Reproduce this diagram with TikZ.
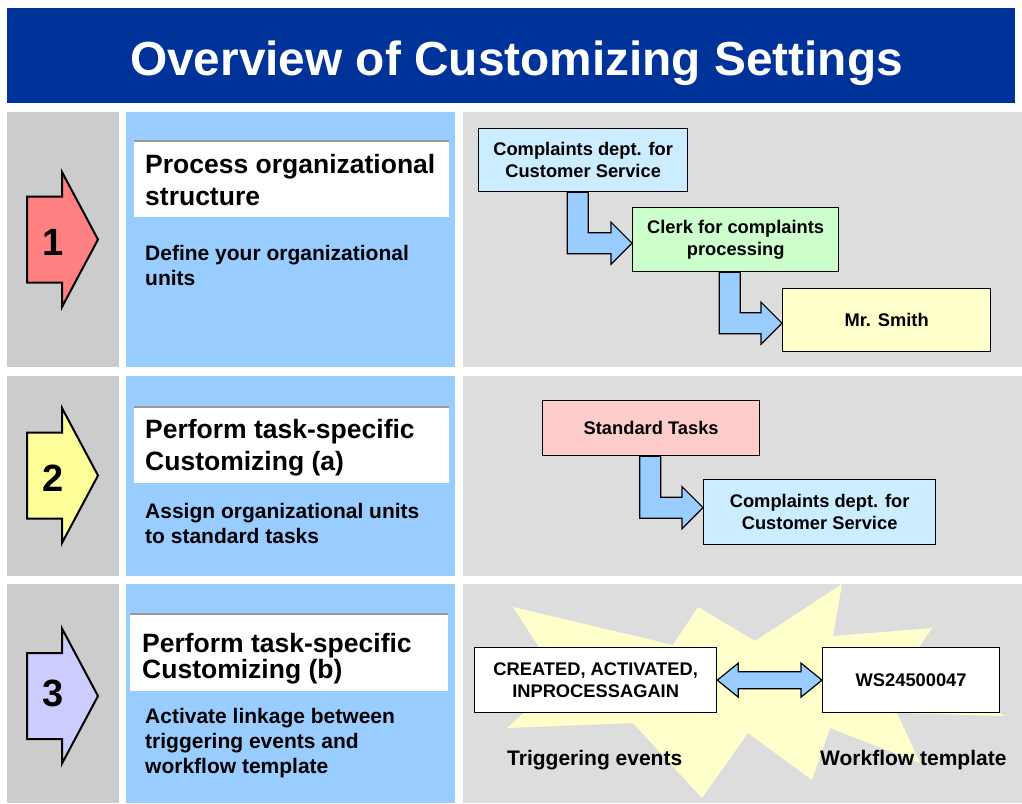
\documentclass[tikz,border=0pt]{standalone}
\usepackage{fontspec}
\setmainfont{Liberation Sans}
\usetikzlibrary{calc}

\definecolor{sapblue}{HTML}{003399}
\definecolor{colgray}{HTML}{CCCCCC}
\definecolor{colblue}{HTML}{99CCFF}
\definecolor{panelgray}{HTML}{DDDDDD}
\definecolor{numred}{HTML}{FF8080}
\definecolor{numyellow}{HTML}{FFFF99}
\definecolor{numlilac}{HTML}{CCCCFF}
\definecolor{deptcyan}{HTML}{CCECFF}
\definecolor{clerkgreen}{HTML}{CCFFCC}
\definecolor{smithyellow}{HTML}{FFFFCC}
\definecolor{taskpink}{HTML}{FFCCCC}
\definecolor{burstyellow}{HTML}{FFFFCC}

% bent block arrow from the bottom of #1 to the left side of #2 (#3, #4: shift of the shaft)
\newcommand\bentlink[4]{%
  \coordinate (lk-s) at ($(#1.south)+(#3,0)$);
  \coordinate (lk-t) at ($(#2.west)+(0,#4)$);
  \draw[linkarrow] ($(lk-s)+(-10.5,0)$) -- ($(lk-s |- lk-t)+(-10.5,10.5)$)
    -- ($(lk-t)+(-21,10.5)$) -- ($(lk-t)+(-21,21)$) -- (lk-t)
    -- ($(lk-t)+(-21,-21)$) -- ($(lk-t)+(-21,-10.5)$)
    -- ($(lk-s |- lk-t)+(10.5,-10.5)$) -- ($(lk-s)+(10.5,0)$) -- cycle;}

\begin{document}
\begin{tikzpicture}[
    x=1pt, y=-1pt,
    numarrow/.style={draw, line width=2pt, line join=miter},
    numtext/.style={anchor=base, font=\fontsize{38}{40}\selectfont\bfseries},
    titlebox/.style={fill=white, anchor=north west, inner sep=0pt, minimum width=315, minimum height=76},
    titleedge/.style={draw=black!40, line width=1.2pt},
    headtext/.style={anchor=base west, inner sep=0pt, align=left, font=\fontsize{26.5}{32}\selectfont\bfseries},
    subtext/.style={anchor=base west, inner sep=0pt, align=left, font=\fontsize{21}{25}\selectfont\bfseries},
    orgbox/.style={draw, line width=1.3pt, anchor=north west, inner sep=0pt, align=center, font=\fontsize{18.3}{22}\selectfont\bfseries},
    linkarrow/.style={draw, fill=colblue, line width=1.2pt, line join=miter},
    labeltext/.style={anchor=base west, inner sep=0pt, font=\fontsize{21}{25}\selectfont\bfseries},
  ]
  \fill[white] (0,0) rectangle (1022,803);
  \useasboundingbox (0,0) rectangle (1022,803);

  % title bar
  \node[fill=sapblue, anchor=north west, inner sep=0pt, minimum width=1008, minimum height=95] (bar) at (7,8) {};
  \node[anchor=base, text=white, font=\fontsize{47.8}{50}\selectfont\bfseries] (title) at (516.5,75) {Overview of Customizing Settings};

  % three rows of columns
  \foreach \top/\bot in {112/367, 376/576, 584/803} {
    \fill[colgray] (7,\top) rectangle (119,\bot);
    \fill[colblue] (126,\top) rectangle (455,\bot);
    \fill[panelgray] (463,\top) rectangle (1022,\bot);
  }

  % numbered arrows
  \foreach \n/\cy/\base/\col in {1/239.5/255/numred, 2/475.5/491/numyellow, 3/696/706/numlilac} {
    \draw[numarrow, fill=\col] (27,{\cy-43}) -- (62,{\cy-43}) -- (62,{\cy-67.5}) -- (98,\cy)
      -- (62,{\cy+67.5}) -- (62,{\cy+43}) -- (27,{\cy+43}) -- cycle;
    \node[numtext] (num\n) at (53,\base) {\n};
  }

  % step 1 (text nodes sit on the baseline of their last line)
  \node[titlebox] (tbox1) at (134,141) {};
  \draw[titleedge] (tbox1.north west) -- (tbox1.north east);
  \node[headtext] (head1) at (145,205) {Process organizational\\structure};
  \node[subtext] (sub1) at (145,285) {Define your organizational\\units};

  \node[orgbox, fill=deptcyan, minimum width=209, minimum height=63] (dept) at (478,128) {Complaints dept. for\\Customer Service};
  \node[orgbox, fill=clerkgreen, minimum width=206, minimum height=64] (clerk) at (632,207) {Clerk for complaints\\processing};
  \node[orgbox, fill=smithyellow, minimum width=208, minimum height=63] (smith) at (782,288) {Mr. Smith};
  \bentlink{dept}{clerk}{-5.5}{3.5}
  \bentlink{clerk}{smith}{-6}{3}

  % step 2
  \node[titlebox] (tbox2) at (134,407) {};
  \draw[titleedge] (tbox2.north west) -- (tbox2.north east);
  \node[headtext] (head2) at (145,470) {Perform task-specific\\Customizing (a)};
  \node[subtext] (sub2) at (145,543) {Assign organizational units\\to standard tasks};

  \node[orgbox, fill=taskpink, minimum width=217, minimum height=55] (tasks) at (542,400) {Standard Tasks};
  \node[orgbox, fill=deptcyan, minimum width=232, minimum height=65] (dept2) at (703,479) {Complaints dept. for\\Customer Service};
  \bentlink{tasks}{dept2}{-1}{-4.5}

  % step 3
  \node[titlebox, minimum width=318, minimum height=77] (tbox3) at (130,614) {};
  \draw[titleedge] (tbox3.north west) -- (tbox3.north east);
  \node[headtext, font=\fontsize{26.5}{26}\selectfont\bfseries] (head3) at (142,678) {Perform task-specific\\Customizing (b)};
  \node[subtext] (sub3) at (145,773) {Activate linkage between\\triggering events and\\workflow template};

  \fill[burstyellow] (513,607) -- (673,645) -- (698,607) -- (755,641) -- (842,584) -- (833,636)
    -- (932,628) -- (910,660) -- (1005,716) -- (897,713) -- (920,763) -- (830,728) -- (812,780)
    -- (748,733) -- (702,798) -- (633,723) -- (507,728) -- (560,680) -- cycle;

  \node[orgbox, fill=white, minimum width=242, minimum height=65] (events) at (474,647) {CREATED, ACTIVATED,\\INPROCESSAGAIN};
  \node[orgbox, fill=white, minimum width=177, minimum height=65] (wstmpl) at (822,647) {WS24500047};
  \draw[linkarrow] (events.east) -- ($(events.east)+(21,-17)$) -- ($(events.east)+(21,-8.5)$)
    -- ($(wstmpl.west)+(-21,-8.5)$) -- ($(wstmpl.west)+(-21,-17)$) -- (wstmpl.west)
    -- ($(wstmpl.west)+(-21,17)$) -- ($(wstmpl.west)+(-21,8.5)$)
    -- ($(events.east)+(21,8.5)$) -- ($(events.east)+(21,17)$) -- cycle;

  \node[labeltext] (evlabel) at (507,765) {Triggering events};
  \node[labeltext] (wslabel) at (820,765) {Workflow template};
\end{tikzpicture}
\end{document}
